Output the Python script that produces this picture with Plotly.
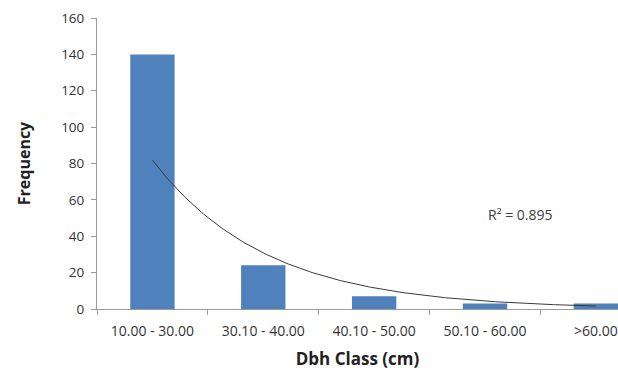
import numpy as np
import plotly.graph_objects as go

categories = ["10.00 - 30.00", "30.10 - 40.00", "40.10 - 50.00", "50.10 - 60.00", ">60.00"]
frequency = [140, 24, 7, 3, 3]
r2_label = "R² = 0.895"

# Exponential trendline fitted to the data (Excel-style, x = 1..n)
xi = np.arange(1, len(frequency) + 1)
b, ln_a = np.polyfit(xi, np.log(frequency), 1)
xs = np.linspace(1, len(frequency), 200)
ys = np.exp(ln_a) * np.exp(b * xs)

xr = [-0.5, 4.2]

fig = go.Figure()
fig.add_trace(go.Bar(x=categories, y=frequency, marker=dict(color="#4F81BD", line=dict(width=0)),
                     width=0.4, showlegend=False))
fig.add_trace(go.Scatter(x=xs - 1, y=ys, mode="lines", xaxis="x2",
                         line=dict(color="#3a3a3a", width=1), showlegend=False))

fig.add_annotation(x=3.32, y=51.7, xref="x2", yref="y", text=r2_label, showarrow=False,
                   font=dict(family="Open Sans", size=14, color="#404040"))

fig.update_layout(
    width=618, height=374,
    margin=dict(l=97, r=0, t=18, b=65, pad=0),
    paper_bgcolor="white", plot_bgcolor="white",
    font=dict(family="Open Sans", color="#333333"),
    xaxis=dict(type="category", range=xr, tickson="boundaries", ticks="outside", ticklen=5,
               tickcolor="#9a9a9a", showline=True, linecolor="#9a9a9a", linewidth=1,
               showgrid=False, automargin=False, ticklabelstandoff=9,
               tickfont=dict(size=14, color="#333333"),
               title=dict(text="<b>Dbh Class (cm)</b>", font=dict(size=17, color="#222222"), standoff=14)),
    xaxis2=dict(overlaying="x", range=xr, visible=False, showgrid=False),
    yaxis=dict(range=[0, 160], dtick=20, ticks="outside", ticklen=5, tickcolor="#9a9a9a",
               showline=True, linecolor="#9a9a9a", linewidth=1, showgrid=False, zeroline=False,
               automargin=False, ticklabelstandoff=4, tickfont=dict(size=13.5, color="#333333"),
               title=dict(text="<b>Frequency</b>", font=dict(size=16, color="#222222"), standoff=26)),
)

fig.write_html("out.html", config={"displayModeBar": False},
               post_script="document.body.style.margin='0';")
